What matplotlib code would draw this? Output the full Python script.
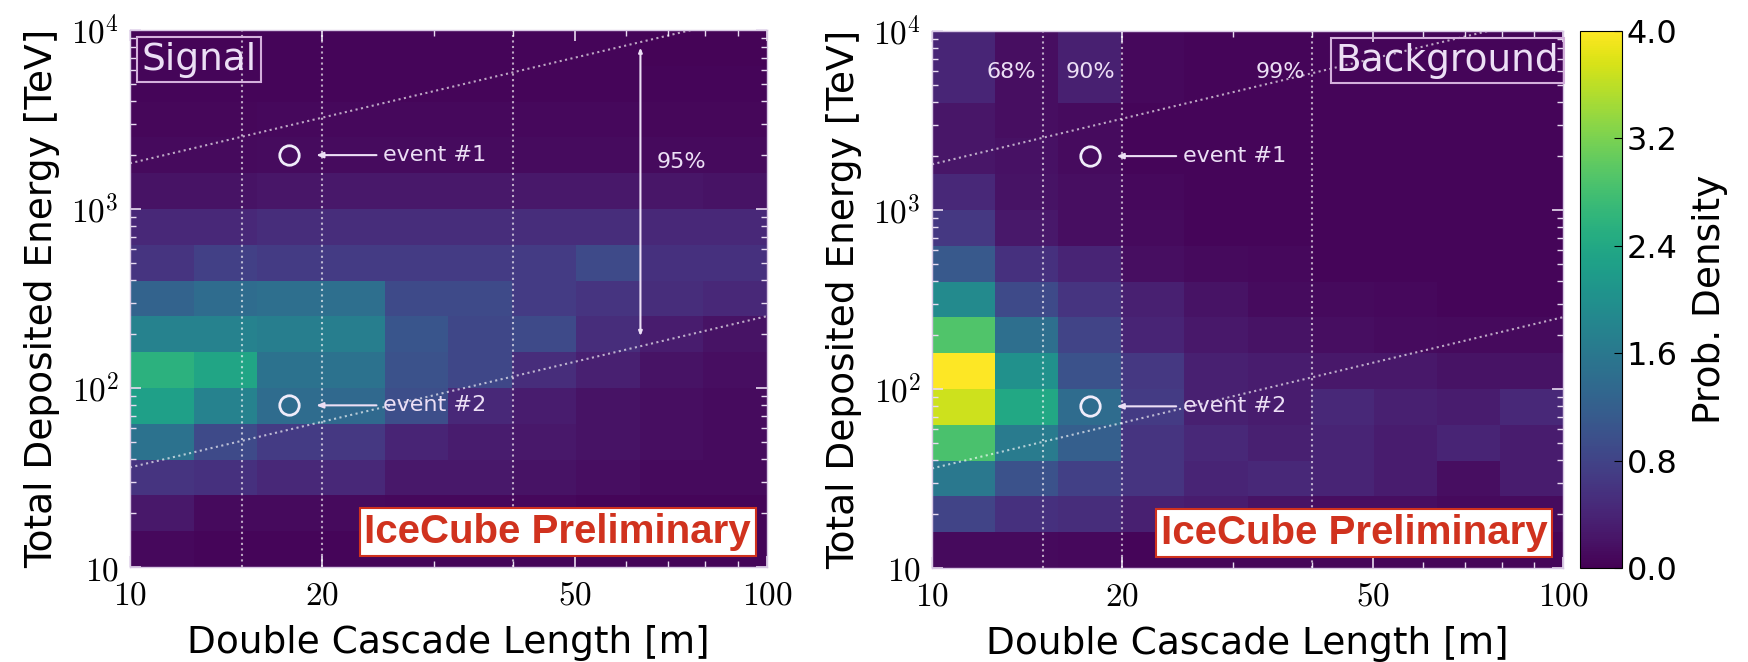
import numpy as np
import matplotlib
matplotlib.use("Agg")
import matplotlib.pyplot as plt
from matplotlib.ticker import NullFormatter

plt.rcParams['mathtext.fontset'] = 'cm'
plt.rcParams['font.family'] = ['DejaVu Sans']

# bin edges: 10 log bins in length, 15 log bins in energy
length_edges = 10 ** np.linspace(1, 2, 11)
energy_edges = 10 ** np.linspace(1, 4, 16)

# probability density per bin, rows go from lowest energy bin upwards
signal_pdf = [
    [0.08, 0.05, 0.05, 0.05, 0.05, 0.05, 0.05, 0.05, 0.05, 0.05],
    [0.25, 0.10, 0.10, 0.10, 0.08, 0.08, 0.08, 0.06, 0.06, 0.06],
    [0.60, 0.55, 0.45, 0.45, 0.25, 0.25, 0.20, 0.15, 0.10, 0.10],
    [1.50, 0.90, 0.70, 0.65, 0.40, 0.30, 0.25, 0.20, 0.15, 0.12],
    [2.25, 1.75, 1.40, 1.35, 0.95, 0.45, 0.30, 0.20, 0.15, 0.12],
    [2.55, 2.35, 1.50, 1.50, 1.00, 0.85, 0.50, 0.35, 0.20, 0.15],
    [1.75, 1.75, 1.70, 1.70, 1.05, 0.85, 0.90, 0.50, 0.30, 0.20],
    [1.25, 1.40, 1.45, 1.45, 0.90, 0.90, 0.70, 0.60, 0.50, 0.45],
    [0.60, 0.75, 0.70, 0.70, 0.70, 0.70, 0.70, 0.90, 0.55, 0.55],
    [0.45, 0.45, 0.50, 0.50, 0.50, 0.50, 0.50, 0.50, 0.45, 0.45],
    [0.20, 0.20, 0.22, 0.25, 0.25, 0.25, 0.25, 0.25, 0.22, 0.20],
    [0.10, 0.10, 0.12, 0.12, 0.12, 0.12, 0.12, 0.12, 0.10, 0.10],
    [0.07, 0.07, 0.08, 0.08, 0.08, 0.08, 0.08, 0.08, 0.07, 0.07],
    [0.05, 0.05, 0.06, 0.06, 0.06, 0.06, 0.06, 0.06, 0.05, 0.05],
    [0.04, 0.04, 0.05, 0.05, 0.05, 0.05, 0.05, 0.05, 0.04, 0.04],
]

background_pdf = [
    [0.10, 0.10, 0.08, 0.06, 0.05, 0.05, 0.05, 0.05, 0.05, 0.05],
    [0.80, 0.55, 0.50, 0.35, 0.30, 0.20, 0.15, 0.15, 0.10, 0.12],
    [1.60, 1.00, 0.75, 0.60, 0.40, 0.45, 0.40, 0.30, 0.15, 0.30],
    [2.85, 1.65, 1.20, 0.60, 0.45, 0.35, 0.40, 0.30, 0.40, 0.30],
    [3.70, 2.40, 1.40, 0.70, 0.35, 0.30, 0.45, 0.35, 0.30, 0.45],
    [4.00, 2.00, 1.00, 0.65, 0.35, 0.30, 0.25, 0.25, 0.20, 0.20],
    [2.90, 1.45, 0.80, 0.40, 0.25, 0.20, 0.15, 0.12, 0.10, 0.10],
    [1.90, 0.90, 0.60, 0.35, 0.20, 0.12, 0.10, 0.08, 0.06, 0.06],
    [1.10, 0.55, 0.40, 0.15, 0.10, 0.08, 0.06, 0.05, 0.05, 0.05],
    [0.65, 0.25, 0.15, 0.10, 0.06, 0.05, 0.05, 0.05, 0.05, 0.05],
    [0.45, 0.20, 0.15, 0.08, 0.05, 0.05, 0.05, 0.05, 0.05, 0.05],
    [0.22, 0.18, 0.12, 0.06, 0.05, 0.05, 0.05, 0.05, 0.05, 0.05],
    [0.22, 0.15, 0.12, 0.06, 0.05, 0.05, 0.05, 0.05, 0.05, 0.05],
    [0.42, 0.15, 0.35, 0.08, 0.05, 0.05, 0.05, 0.05, 0.05, 0.05],
    [0.42, 0.15, 0.35, 0.08, 0.05, 0.05, 0.05, 0.05, 0.05, 0.05],
]

# containment cuts on the length
length_cuts = [15, 20, 40]
length_cut_labels = ['68%', '90%', '99%']

# 95% energy band: E = norm * (L / 10) ** slope
band_slope = 0.845
band_norm_low = 36.0
band_norm_high = 1800.0
band_arrow_length = 63.3
band_arrow_range = (195, 7980)

# two example events (length in m, energy in TeV)
event_names = ['event #1', 'event #2']
event_length = [17.8, 17.8]
event_energy = [2000, 80]

x_ticks = [10, 20, 50, 100]
x_tick_labels = [r'$10$', r'$20$', r'$50$', r'$100$']
y_ticks = [10, 100, 1000, 10000]
y_tick_labels = [r'$10$', r'$10^2$', r'$10^3$', r'$10^4$']
cbar_ticks = [0.0, 0.8, 1.6, 2.4, 3.2, 4.0]

light = '#ecdff5'
box_edge = '#d4b0dc'
ice_red = '#d0321e'

fig = plt.figure(figsize=(17.49, 6.62), dpi=100)
ax1 = fig.add_axes([0.0743, 0.1435, 0.3642, 0.8112])
ax2 = fig.add_axes([0.5329, 0.1420, 0.3608, 0.8112])
cax = fig.add_axes([0.9034, 0.1420, 0.0240, 0.8112])


def draw_panel(ax, pdf, title, title_x, title_ha):
    mesh = ax.pcolormesh(length_edges, energy_edges, np.array(pdf),
                         cmap='viridis', vmin=0, vmax=4, shading='flat')
    ax.set_xscale('log')
    ax.set_yscale('log')
    ax.set_xlim(10, 100)
    ax.set_ylim(10, 1e4)

    # length cuts
    for xc in length_cuts:
        ax.axvline(xc, color='white', ls=':', lw=1.5, alpha=0.65)

    # energy band lines
    xs = np.array([10.0, 100.0])
    for norm in (band_norm_low, band_norm_high):
        ax.plot(xs, norm * (xs / 10) ** band_slope, color='white', ls=':',
                lw=1.5, alpha=0.65)

    # events
    ax.plot(event_length, event_energy, 'o', ms=14, mfc='none',
            mec='#f0ecfa', mew=2)
    for name, ev_e in zip(event_names, event_energy):
        ax.annotate(name, xy=(19.6, ev_e), xytext=(25, ev_e), color=light,
                    fontsize=16, va='center', ha='left',
                    arrowprops=dict(arrowstyle='-|>,head_length=0.25,head_width=0.1',
                                    color=light, lw=1.5, shrinkA=3, shrinkB=0))

    ax.text(title_x, 0.978, title, transform=ax.transAxes, fontsize=27,
            color=light, ha=title_ha, va='top',
            bbox=dict(boxstyle='square,pad=0.12', fc='none', ec=box_edge, lw=1.5))

    ax.text(0.975, 0.03, 'IceCube Preliminary', transform=ax.transAxes,
            fontsize=29, fontweight='bold', family='Liberation Sans',
            color=ice_red, ha='right', va='bottom',
            bbox=dict(boxstyle='square,pad=0.12', fc='white', ec=ice_red, lw=1.5))

    ax.set_xticks(x_ticks, labels=x_tick_labels)
    ax.set_yticks(y_ticks, labels=y_tick_labels)
    ax.xaxis.set_minor_formatter(NullFormatter())
    ax.yaxis.set_minor_formatter(NullFormatter())
    ax.tick_params(which='both', direction='in', top=True, right=True,
                   color='#e8dcf0', labelsize=24, pad=8)
    ax.tick_params(which='major', length=8, width=1.2)
    ax.tick_params(which='minor', length=4, width=1.0)
    for sp in ax.spines.values():
        sp.set_color('#d8c8e4')
        sp.set_linewidth(1.0)

    ax.set_xlabel('Double Cascade Length [m]', fontsize=27, labelpad=10)
    ax.set_ylabel('Total Deposited Energy [TeV]', fontsize=27, labelpad=8)
    return mesh


draw_panel(ax1, signal_pdf, 'Signal', 0.018, 'left')
mesh = draw_panel(ax2, background_pdf, 'Background', 0.994, 'right')

# 95% band marker on the signal panel
ax1.annotate('', xy=(band_arrow_length, band_arrow_range[1]),
             xytext=(band_arrow_length, band_arrow_range[0]),
             arrowprops=dict(arrowstyle='<|-|>,head_length=0.25,head_width=0.1',
                             color=light, lw=1.5, shrinkA=0, shrinkB=0))
ax1.annotate('95%', xy=(band_arrow_length, 1830), xytext=(12, 0),
             textcoords='offset points', color=light, fontsize=16,
             ha='left', va='center')

# containment labels on the background panel
for xc, lab in zip(length_cuts, length_cut_labels):
    ax2.annotate(lab, xy=(xc, 5900), xytext=(-5, 0), textcoords='offset points',
                 color=light, fontsize=16, ha='right', va='center')

cb = fig.colorbar(mesh, cax=cax, ticks=cbar_ticks)
cb.ax.set_yticklabels(['%.1f' % t for t in cbar_ticks])
cb.ax.tick_params(labelsize=23, direction='in', length=6)
cb.set_label('Prob. Density', fontsize=27, labelpad=10)

fig.savefig('out.png', dpi=100)
